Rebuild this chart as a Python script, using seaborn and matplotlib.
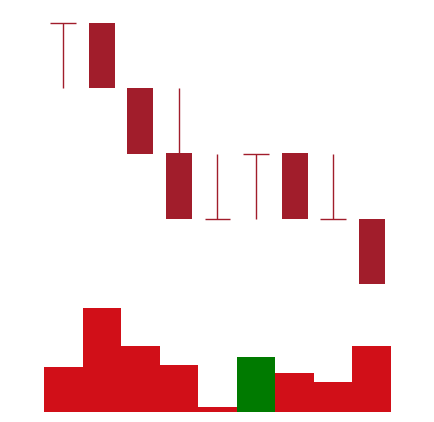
import numpy as np
import pandas as pd
import matplotlib
matplotlib.use("Agg")
import matplotlib.pyplot as plt
import seaborn as sns

# Price levels (open, high, low, close) for each candle
opens  = [5, 5, 4, 3, 2, 3, 3, 2, 2]
highs  = [5, 5, 4, 4, 3, 3, 3, 3, 2]
lows   = [4, 4, 3, 2, 2, 2, 2, 2, 1]
closes = [5, 4, 3, 2, 2, 3, 2, 2, 1]

# Volume per candle
volumes = [45, 103, 65, 47, 5, 54, 39, 30, 65]
vol_colors = ["#d10f18", "#d10f18", "#d10f18", "#d10f18", "#d10f18",
              "#007a00", "#d10f18", "#d10f18", "#d10f18"]

candle_color = "#a11d2b"

sns.set_theme(style="white")

fig = plt.figure(figsize=(4.34, 4.22), dpi=100)
W, H = 434, 422

def px_axes(x0, y0, x1, y1):
    return fig.add_axes([x0 / W, 1 - y1 / H, (x1 - x0) / W, (y1 - y0) / H])

# Price panel
ax = px_axes(44, 23, 391, 284)
x = np.arange(len(opens))
body_w = 0.67
for i in x:
    o, h, l, c = opens[i], highs[i], lows[i], closes[i]
    top, bot = max(o, c), min(o, c)
    if h > top:
        ax.vlines(i, top, h, color=candle_color, lw=1.0, clip_on=False)
    if l < bot:
        ax.vlines(i, l, bot, color=candle_color, lw=1.0, clip_on=False)
    if top > bot:
        ax.bar(i, top - bot, bottom=bot, width=body_w, color=candle_color,
               linewidth=0, clip_on=False)
    else:
        ax.hlines(o, i - body_w / 2, i + body_w / 2, color=candle_color,
                  lw=1.0, clip_on=False)
ax.set_xlim(-0.5, len(opens) - 0.5)
ax.set_ylim(1, 5)
ax.axis("off")

# Volume panel
axv = px_axes(44, 308.3, 391, 411.7)
df = pd.DataFrame({"idx": [str(i) for i in x], "volume": volumes})
sns.barplot(data=df, x="idx", y="volume", hue="idx", palette=vol_colors,
            saturation=1, width=1.0, linewidth=0, legend=False, ax=axv)
axv.set_xlim(-0.5, len(volumes) - 0.5)
axv.set_ylim(0, max(volumes))
axv.axis("off")

fig.savefig("out.png", dpi=100, facecolor="white")
